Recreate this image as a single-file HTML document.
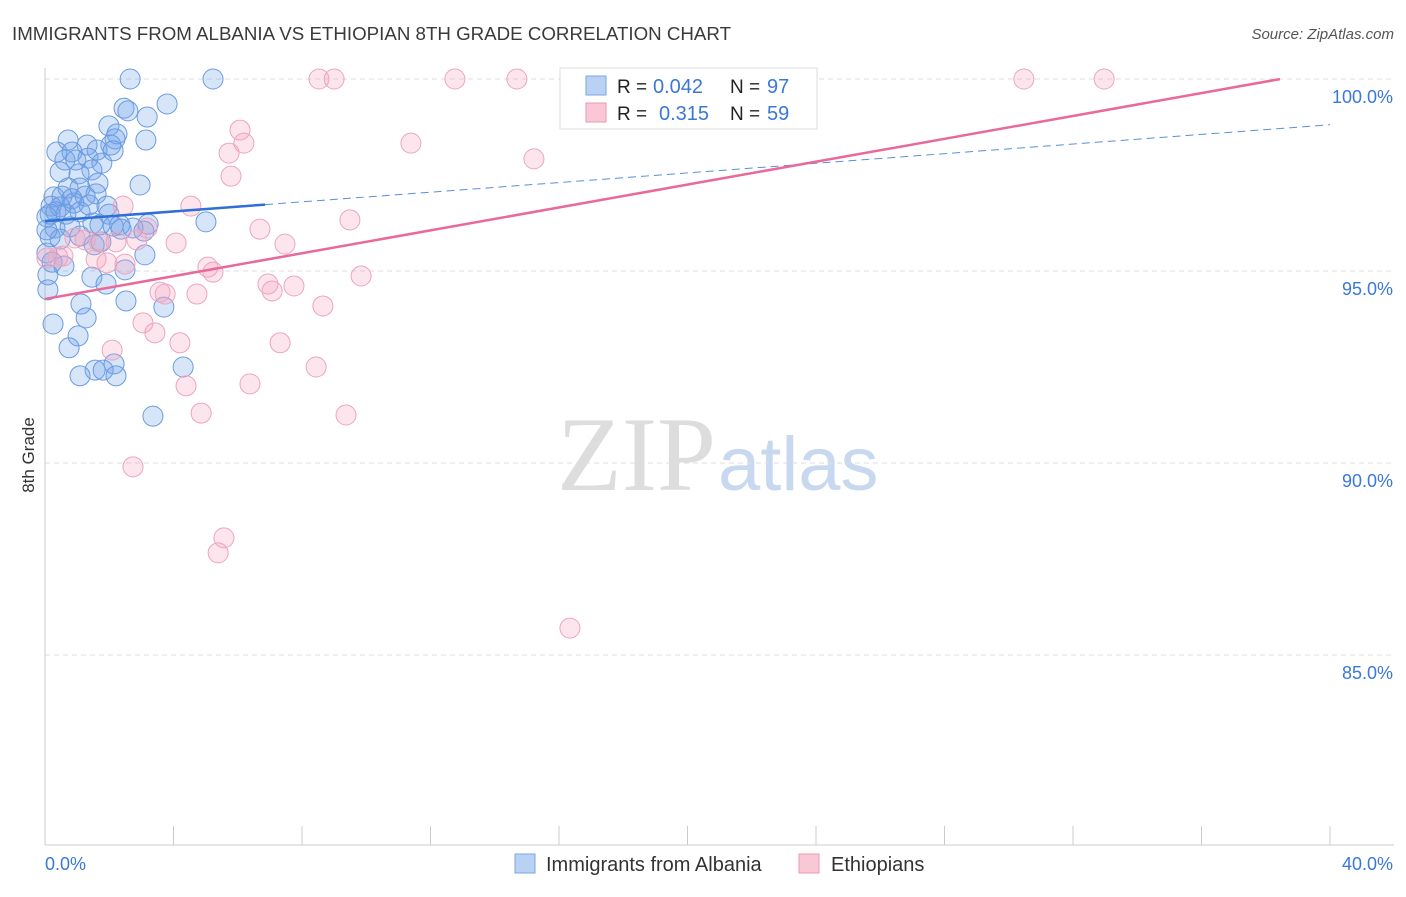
<!DOCTYPE html>
<html><head><meta charset="utf-8"><style>
body{margin:0;background:#fff;font-family:"Liberation Sans",sans-serif;}
</style></head><body>
<svg id="chart" width="1406" height="892" xmlns="http://www.w3.org/2000/svg" font-family="Liberation Sans, sans-serif">
<text x="12" y="40" font-size="18" fill="#3a3a3a" textLength="719" lengthAdjust="spacingAndGlyphs">IMMIGRANTS FROM ALBANIA VS ETHIOPIAN 8TH GRADE CORRELATION CHART</text>
<text x="1394" y="39" font-size="15" fill="#555" text-anchor="end" font-style="italic">Source: ZipAtlas.com</text>
<text transform="translate(34,455) rotate(-90)" font-size="17" fill="#333" text-anchor="middle">8th Grade</text>
<text x="716" y="490" font-size="106" text-anchor="end" fill="#ddd" font-family="Liberation Serif, serif">ZIP</text>
<text x="718" y="490" font-size="76" fill="#c8d9ef">atlas</text>
<g id="grid"></g><g id="axes"></g><g id="marks"></g><g id="lines"></g>
<g>
<rect x="560" y="68" width="257" height="61" fill="#fff" stroke="#ddd"/>
<rect x="586" y="76" width="20" height="19" fill="#b9d2f4" stroke="#7aa6e6"/>
<text x="617" y="93" font-size="19" fill="#222">R =</text>
<text x="653" y="93" font-size="20" fill="#3a78d8">0.042</text>
<text x="730" y="93" font-size="19" fill="#222">N =</text>
<text x="767" y="93" font-size="20" fill="#3a78d8">97</text>
<rect x="586" y="103" width="20" height="19" fill="#f9c7d6" stroke="#eb98b3"/>
<text x="617" y="120" font-size="19" fill="#222">R =</text>
<text x="659" y="120" font-size="20" fill="#3a78d8">0.315</text>
<text x="730" y="120" font-size="19" fill="#222">N =</text>
<text x="767" y="120" font-size="20" fill="#3a78d8">59</text>
</g>
<g>
<rect x="515" y="854" width="20" height="19" fill="#b9d2f4" stroke="#7aa6e6"/>
<text x="546" y="871" font-size="20" fill="#333">Immigrants from Albania</text>
<rect x="799" y="854" width="20" height="19" fill="#f9c7d6" stroke="#eb98b3"/>
<text x="831" y="871" font-size="20" fill="#333">Ethiopians</text>
</g>
</svg>
<script>
const blueX=[2.65,5.23,2.46,2.58,3.80,3.18,1.99,2.24,2.18,3.14,0.72,1.31,2.05,0.37,0.84,1.62,1.34,2.12,0.62,0.96,1.77,0.47,1.46,1.06,2.96,0.72,1.09,1.65,0.28,0.53,0.84,1.59,0.19,0.47,0.90,1.37,1.93,0.16,0.65,1.09,1.99,5.01,1.49,2.33,0.31,0.78,3.21,2.74,0.16,0.47,1.09,1.74,1.53,3.08,3.11,0.59,2.49,0.09,1.46,1.90,0.09,1.12,2.52,3.70,1.28,0.25,1.03,0.75,4.30,1.56,2.15,1.81,2.21,1.09,3.36,0.06,0.06,0.34,1.25,1.71,2.12,2.37,0.06,0.22];
const blueY=[100,100,99.24,99.17,99.35,99.01,98.78,98.57,98.44,98.41,98.41,98.28,98.28,98.10,98.10,98.15,97.94,98.13,97.89,97.89,97.81,97.58,97.63,97.53,97.24,97.16,97.16,97.29,96.93,96.95,96.88,97.01,96.69,96.67,96.77,96.72,96.69,96.48,96.48,96.54,96.48,96.28,96.25,96.20,96.12,96.15,96.22,96.12,95.89,95.83,95.91,95.76,95.68,96.04,95.42,95.13,95.03,94.90,94.84,94.66,94.51,94.14,94.22,94.06,93.78,93.62,93.31,93.00,92.50,92.42,92.58,92.42,92.27,92.27,91.22,96.41,96.07,96.54,96.95,96.20,96.17,96.09,95.47,95.23];
const pinkX=[8.53,9.0,12.76,14.69,20.7,30.47,32.97,6.07,6.19,5.73,5.79,11.39,15.22,4.54,2.43,6.69,9.49,7.47,4.08,3.18,2.21,1.68,0.93,1.25,0.40,0.06,0.56,1.93,1.59,2.49,5.07,5.23,9.84,6.94,7.07,7.75,3.58,3.74,4.73,8.65,3.05,3.42,4.20,7.32,2.09,8.44,4.39,6.38,4.86,9.37,2.74,5.57,5.39,16.34,2.86];
const pinkY=[100,100,100,100,100,100,100,98.67,98.33,98.07,97.47,98.33,97.92,96.69,96.69,96.09,96.33,95.70,95.73,96.12,95.76,95.76,95.86,95.81,95.36,95.34,95.39,95.21,95.31,95.18,95.10,94.97,94.87,94.66,94.48,94.61,94.45,94.40,94.40,94.09,93.65,93.39,93.13,93.13,92.94,92.50,92.01,92.06,91.30,91.25,89.90,88.05,87.66,85.70,95.81];
const yTicks=[100,95,90,85];
const yTickLabels=["100.0%","95.0%","90.0%","85.0%"];
const xTicks=[0,4,8,12,16,20,24,28,32,36,40];
const blueFit=[96.30,0.0627,6.85];
const pinkFit=[94.27,0.149,38.44];
const NS="http://www.w3.org/2000/svg";
const sx=v=>45+v*32.125, sy=v=>79+(100-v)*38.4;
function mk(p,t,a){const e=document.createElementNS(NS,t);for(const k in a)e.setAttribute(k,a[k]);document.getElementById(p).appendChild(e);return e;}
yTicks.forEach((t,i)=>{
 const g=mk('grid','line',{x1:45,x2:1394,y1:sy(t),y2:sy(t),stroke:'#ddd','stroke-dasharray':'5,4'});
 
 
 const l=mk('axes','text',{x:1393,y:sy(t)+24,'font-size':18,fill:'#3a78d8','text-anchor':'end'});
 l.textContent=yTickLabels[i];
 
 
});
const ax=mk('axes','line',{x1:45,x2:1394,y1:845,y2:845,stroke:'#ccc'});


const ay=mk('axes','line',{x1:45,x2:45,y1:68,y2:845,stroke:'#ccc'});


xTicks.forEach(t=>{const k=mk('axes','line',{x1:sx(t),x2:sx(t),y1:826,y2:845,stroke:'#ccc'});
 
 });
const l0=mk('axes','text',{x:45,y:870,'font-size':18,fill:'#3a78d8'});l0.textContent=xTicks[0].toFixed(1)+'%';


const l1=mk('axes','text',{x:1393,y:870,'font-size':18,fill:'#3a78d8','text-anchor':'end'});l1.textContent=xTicks[xTicks.length-1].toFixed(1)+'%';


blueX.forEach((x,i)=>{const c=mk('marks','circle',{cx:sx(x),cy:sy(blueY[i]),r:10,fill:'rgba(110,160,235,0.28)',stroke:'#6a9be0','stroke-width':1});
 
 });
pinkX.forEach((x,i)=>{const c=mk('marks','circle',{cx:sx(x),cy:sy(pinkY[i]),r:10,fill:'rgba(245,160,190,0.28)',stroke:'#eca5bd','stroke-width':1});
 
 });
const b1=mk('lines','line',{x1:sx(0),y1:sy(blueFit[0]),x2:sx(blueFit[2]),y2:sy(blueFit[0]+blueFit[1]*blueFit[2]),stroke:'#2f6fd6','stroke-width':2.5});


const b2=mk('lines','line',{x1:sx(blueFit[2]),y1:sy(blueFit[0]+blueFit[1]*blueFit[2]),x2:sx(40),y2:sy(blueFit[0]+blueFit[1]*40),stroke:'#5a8fd8','stroke-width':1,'stroke-dasharray':'8,5'});


const p1=mk('lines','line',{x1:sx(0),y1:sy(pinkFit[0]),x2:sx(pinkFit[2]),y2:sy(pinkFit[0]+pinkFit[1]*pinkFit[2]),stroke:'#e8699a','stroke-width':2.5});


</script>
</body></html>
